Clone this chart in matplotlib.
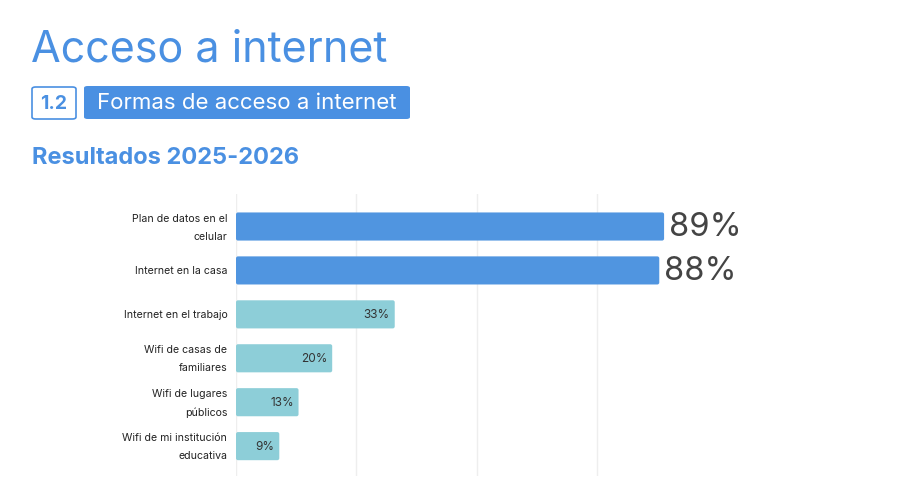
import matplotlib
matplotlib.use("Agg")
import matplotlib.pyplot as plt
from matplotlib.patches import FancyBboxPatch

categories = ["Plan de datos en el\ncelular", "Internet en la casa", "Internet en el trabajo",
              "Wifi de casas de\nfamiliares", "Wifi de lugares\npúblicos", "Wifi de mi institución\neducativa"]
values = [89, 88, 33, 20, 13, 9]
highlight = [True, True, False, False, False, False]
grid_ticks = [0, 25, 50, 75]

title = "Acceso a internet"
badge = "1.2"
subtitle = "Formas de acceso a internet"
period = "Resultados 2025-2026"

BLUE = "#5095E0"
TEAL = "#8DCED8"
TITLE_BLUE = "#4A90E2"
DARK = "#444444"

plt.rcParams['font.family'] = ['Inter', 'DejaVu Sans']

W, H = 913, 502
fig = plt.figure(figsize=(W / 100, H / 100), dpi=100)
fig.patch.set_facecolor("white")

def fx(px):
    return px / W

def fy(py):
    return 1 - py / H

# Titles
fig.text(fx(31), fy(62), title, fontsize=31, color=TITLE_BLUE, ha="left", va="baseline")

badge_box = FancyBboxPatch((fx(32), fy(120)), fx(76) - fx(32), fy(88) - fy(120),
                           boxstyle="round,pad=0,rounding_size=0.004",
                           transform=fig.transFigure, facecolor="white",
                           edgecolor=TITLE_BLUE, linewidth=1.2)
fig.add_artist(badge_box)
fig.text(fx(54), fy(104), badge, fontsize=14, fontweight="bold", color=TITLE_BLUE,
         ha="center", va="center")

sub_box = FancyBboxPatch((fx(84), fy(120)), fx(410) - fx(84), fy(87) - fy(120),
                         boxstyle="round,pad=0,rounding_size=0.004",
                         transform=fig.transFigure, facecolor=TITLE_BLUE,
                         edgecolor="none")
fig.add_artist(sub_box)
fig.text(fx(97), fy(103), subtitle, fontsize=16, color="white", ha="left", va="center")

fig.text(fx(32), fy(164), period, fontsize=17, fontweight="bold", color=TITLE_BLUE,
         ha="left", va="baseline")

# Chart
ax = fig.add_axes([fx(236), fy(477), fx(717) - fx(236), fy(195) - fy(477)])
y = list(range(len(categories)))
colors = [BLUE if h else TEAL for h in highlight]
bars = ax.barh(y, values, height=0.64, color=colors, zorder=2)

ax.set_xlim(0, 100)
ax.set_ylim(len(categories) - 1 + 0.68, -0.74)

# round the bar corners slightly
px_per_x = (717 - 236) / 100.0
px_per_y = (477 - 195) / (len(categories) - 1 + 0.68 + 0.74)
for b in bars:
    b.set_visible(False)
    rp = FancyBboxPatch((b.get_x(), b.get_y()), b.get_width(), b.get_height(),
                        boxstyle="round,pad=0,rounding_size=%f" % (2.0 / px_per_x),
                        mutation_aspect=px_per_x / px_per_y,
                        facecolor=b.get_facecolor(), edgecolor="none", zorder=2)
    ax.add_patch(rp)

for t in grid_ticks:
    ax.axvline(t, color="#EEEEEE", linewidth=1, zorder=0)

for s in ax.spines.values():
    s.set_visible(False)
ax.set_xticks([])
ax.set_yticks(y)
ax.set_yticklabels([])
ax.tick_params(axis="y", length=0)
for yi, c in zip(y, categories):
    ax.text(-1.8, yi, c, fontsize=7.6, color="#222222", ha="right", va="center",
            multialignment="right", linespacing=2.0)

for yi, v, h in zip(y, values, highlight):
    label = f"{v}%"
    if h:
        ax.text(v + 1.0, yi, label, fontsize=23.5, color=DARK, ha="left", va="center",
                fontweight="normal")
    else:
        ax.text(v - 1.0, yi, label, fontsize=8.5, color="#333333", ha="right", va="center")

fig.savefig("out.png", dpi=100, facecolor="white")
